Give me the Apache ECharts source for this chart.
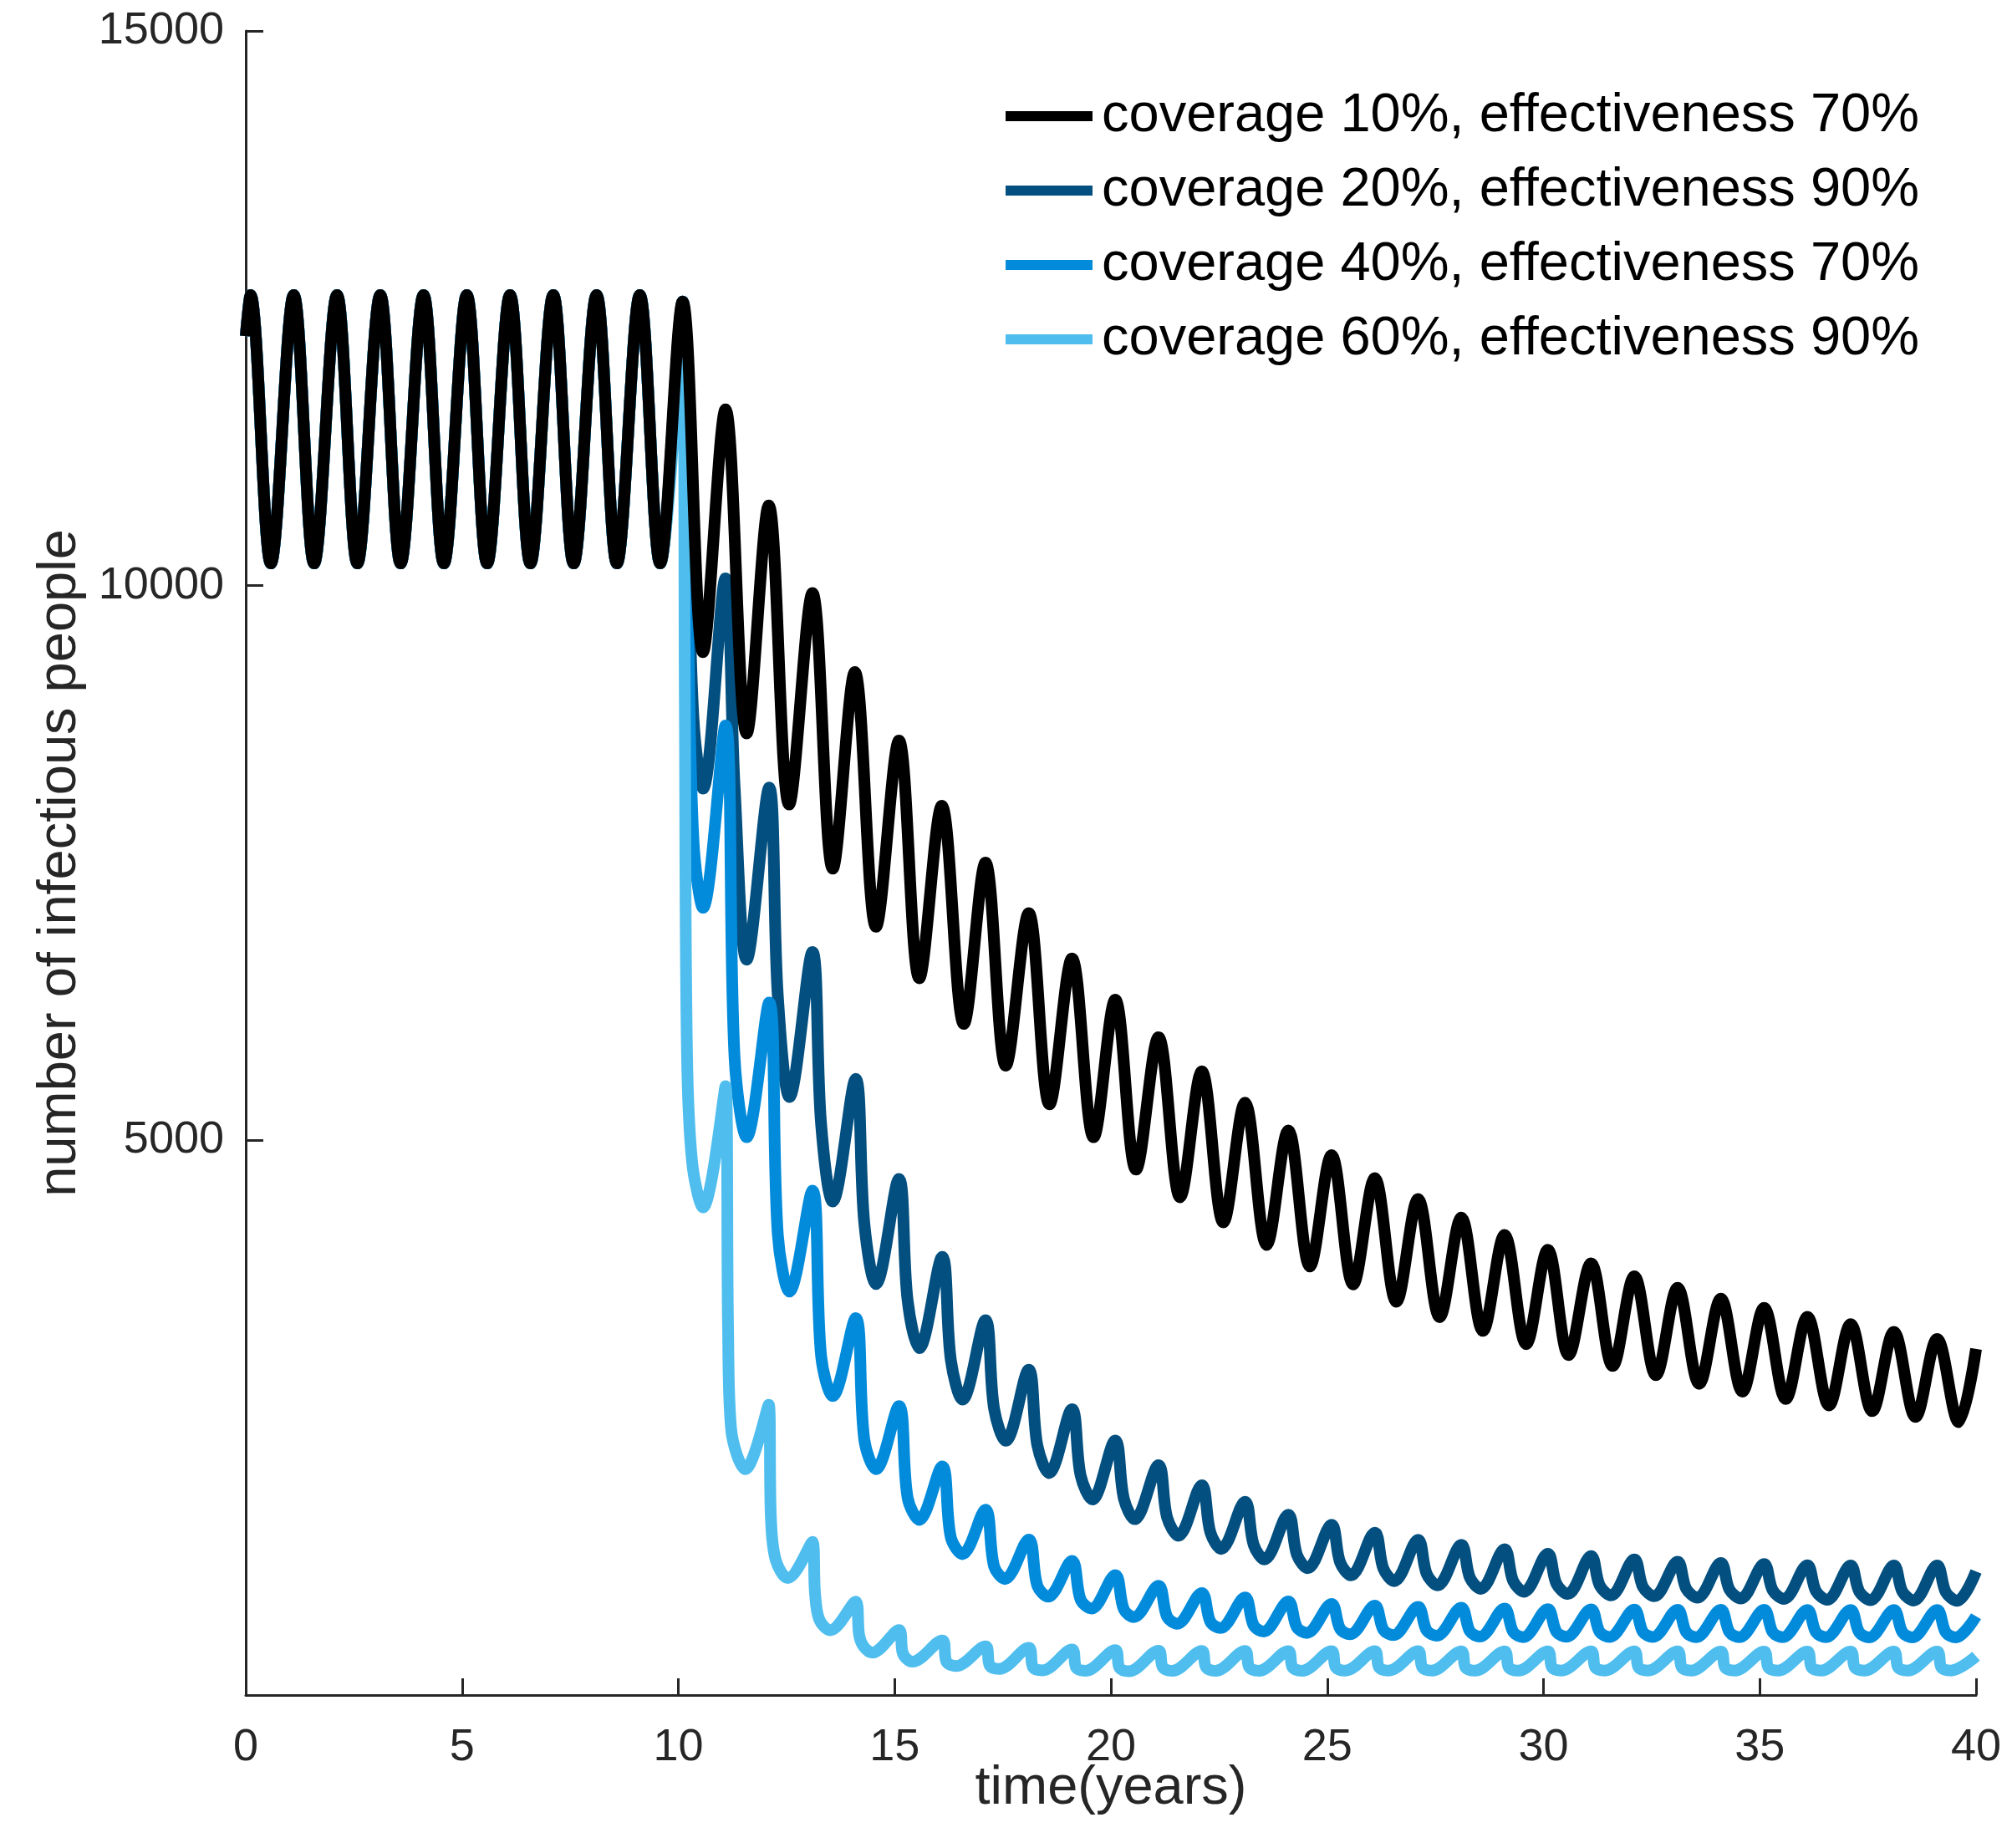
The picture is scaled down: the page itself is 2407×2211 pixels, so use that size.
<!DOCTYPE html>
<html>
<head>
<meta charset="utf-8">
<title>number of infectious people</title>
<script src="https://cdn.jsdelivr.net/npm/echarts@6/dist/echarts.min.js"></script>
<style>
  html, body { margin: 0; padding: 0; background: #fff; }
  #chart { width: 2407px; height: 2211px; }
</style>
</head>
<body>
<div id="chart"></div>
<script>
// [time (years), infectious people]
// before vaccination starts all four runs share the same path
const sharedStart = [[0,12250],[0.11,12620],[0.58,10200],[1.11,12620],[1.58,10200],[2.11,12620],[2.58,10200],[3.11,12620],[3.58,10200],[4.11,12620],[4.58,10200],[5.11,12620],[5.58,10200],[6.11,12620],[6.58,10200],[7.11,12620],[7.58,10200],[8.11,12620],[8.58,10200],[9.11,12620],[9.58,10200],[10.1,12560]]

const cov10eff70 = [[10.57,9400],[11.09,11589],[11.58,8667],[12.09,10723],[12.56,8027],[13.1,9934],[13.57,7449],[14.08,9221],[14.57,6925],[15.1,8603],[15.57,6461],[16.09,8016],[16.6,6050],[17.1,7503],[17.57,5673],[18.1,7048],[18.58,5324],[19.1,6639],[19.6,5028],[20.1,6268],[20.58,4737],[21.1,5929],[21.6,4487],[22.1,5622],[22.6,4261],[23.1,5340],[23.6,4057],[24.1,5090],[24.6,3863],[25.1,4867],[25.6,3701],[26.1,4659],[26.6,3545],[27.1,4471],[27.6,3406],[28.1,4304],[28.6,3282],[29.1,4148],[29.6,3163],[30.1,4013],[30.58,3065],[31.1,3892],[31.6,2966],[32.1,3775],[32.6,2883],[33.1,3671],[33.6,2805],[34.1,3573],[34.6,2735],[35.1,3490],[35.6,2668],[36.1,3409],[36.6,2611],[37.1,3344],[37.6,2559],[38.1,3274],[38.6,2507],[39.1,3210],[39.6,2460],[40,3120]]

const cov20eff90 = [[10.22,10600],[10.35,8800],[10.57,8170],[11.09,10066],[11.3,8196],[11.58,6628],[12.1,8180],[12.3,6300],[12.57,5391],[13.1,6698],[13.3,5150],[13.57,4449],[14.1,5555],[14.3,4250],[14.57,3704],[15.1,4653],[15.3,3560],[15.57,3126],[16.1,3949],[16.3,3020],[16.57,2663],[17.1,3379],[17.3,2580],[17.57,2292],[18.1,2932],[18.3,2250],[18.57,2001],[19.1,2577],[19.3,1980],[19.57,1762],[20.1,2294],[20.3,1770],[20.55,1585],[21.1,2072],[21.3,1600],[21.56,1436],[22.1,1891],[22.3,1465],[22.55,1317],[23.1,1743],[23.3,1355],[23.55,1222],[24.1,1626],[24.3,1265],[24.55,1143],[25.1,1535],[25.3,1195],[25.55,1079],[26.1,1463],[26.3,1138],[26.55,1027],[27.1,1400],[27.3,1093],[27.55,988],[28.1,1354],[28.3,1058],[28.55,957],[29.1,1314],[29.3,1028],[29.55,931],[30.1,1274],[30.3,1003],[30.56,911],[31.1,1253],[31.3,988],[31.56,898],[32.1,1222],[32.3,974],[32.56,890],[33.1,1201],[33.3,958],[33.56,877],[34.1,1190],[34.3,950],[34.56,870],[35.1,1180],[35.3,944],[35.56,866],[36.1,1170],[36.3,936],[36.56,858],[37.1,1167],[37.3,933],[37.56,855],[38.1,1167],[38.3,930],[38.56,852],[39.1,1167],[39.3,928],[39.56,850],[40,1114]]

const cov40eff70 = [[10.22,9800],[10.35,7700],[10.57,7096],[11.09,8740],[11.3,5750],[11.58,5028],[12.1,6241],[12.3,4150],[12.57,3637],[13.1,4547],[13.3,3060],[13.57,2695],[14.1,3398],[14.3,2300],[14.57,2036],[15.1,2604],[15.3,1780],[15.57,1579],[16.1,2061],[16.3,1420],[16.57,1270],[17.1,1671],[17.3,1160],[17.55,1046],[18.1,1402],[18.3,985],[18.55,887],[19.1,1210],[19.3,860],[19.55,780],[20.1,1082],[20.3,772],[20.53,703],[21.1,985],[21.3,705],[21.53,643],[22.1,920],[22.3,660],[22.53,604],[23.1,879],[23.3,628],[23.53,573],[24.1,843],[24.3,610],[24.53,560],[25.1,822],[25.3,597],[25.53,548],[26.1,806],[26.3,588],[26.53,540],[27.1,795],[27.3,582],[27.53,535],[28.1,788],[28.3,574],[28.53,527],[29.1,780],[29.3,569],[29.53,522],[30.1,775],[30.3,570],[30.53,525],[31.1,772],[31.3,569],[31.53,524],[32.1,770],[32.3,568],[32.53,523],[33.1,769],[33.3,567],[33.53,522],[34.1,768],[34.3,567],[34.53,522],[35.1,768],[35.3,566],[35.53,521],[36.1,767],[36.3,566],[36.53,521],[37.1,767],[37.3,565],[37.53,520],[38.1,766],[38.3,565],[38.53,520],[39.1,766],[39.3,565],[39.53,520],[40,710]]

const cov60eff90 = [[10.15,9000],[10.2,5800],[10.32,4800],[10.57,4396],[11.09,5488],[11.15,3300],[11.22,2400],[11.55,2036],[12.09,2617],[12.14,1600],[12.25,1220],[12.53,1054],[13.1,1380],[13.16,920],[13.26,680],[13.51,584],[14.1,842],[14.18,540],[14.28,440],[14.48,382],[15.1,586],[15.18,390],[15.26,334],[15.41,301],[16.1,492],[16.2,300],[16.42,261],[17.1,438],[17.2,265],[17.42,235],[18.1,425],[18.2,250],[18.42,222],[19.1,411],[19.2,245],[19.42,219],[20.1,405],[20.2,245],[20.42,215],[21.1,400],[21.2,250],[21.42,218],[22.1,398],[22.2,250],[22.42,218],[23.1,397],[23.2,249],[23.42,219],[24.1,396],[24.2,249],[24.42,219],[25.1,396],[25.2,249],[25.42,220],[26.1,395],[26.2,249],[26.42,220],[27.1,395],[27.2,249],[27.42,220],[28.1,394],[28.2,248],[28.42,220],[29.1,394],[29.2,248],[29.42,220],[30.1,394],[30.2,248],[30.42,221],[31.1,393],[31.2,248],[31.42,221],[32.1,393],[32.2,248],[32.42,221],[33.1,393],[33.2,248],[33.42,221],[34.1,392],[34.2,248],[34.42,221],[35.1,392],[35.2,248],[35.42,221],[36.1,392],[36.2,248],[36.42,221],[37.1,392],[37.2,248],[37.42,221],[38.1,392],[38.2,248],[38.42,221],[39.1,392],[39.2,248],[39.42,221],[40,350]]

const seriesNames = [
  'coverage 10%, effectiveness 70%',
  'coverage 20%, effectiveness 90%',
  'coverage 40%, effectiveness 70%',
  'coverage 60%, effectiveness 90%',
]
const seriesColors = ['#000000', '#034f7f', '#038bdb', '#4fbeee']
const seriesData = [cov10eff70, cov20eff90, cov40eff70, cov60eff90]

const FONT = '"Liberation Sans", Arial, Helvetica, sans-serif'
const AXIS = '#262626'

function lineSeries(i) {
  return {
    name: seriesNames[i],
    type: 'line',
    data: sharedStart.concat(seriesData[i]),
    smooth: 0.35,
    symbol: 'none',
    lineStyle: { color: seriesColors[i], width: 14, cap: 'butt', join: 'round' },
    itemStyle: { color: seriesColors[i] },
  }
}

function buildOption() {
  return {
    animation: false,
    backgroundColor: '#ffffff',
    grid: { left: 294, right: 43, top: 37, bottom: 183, containLabel: false },
    legend: {
      orient: 'vertical',
      left: 1203,
      top: 104,
      padding: 0,
      itemGap: 19,
      itemWidth: 104,
      itemHeight: 12,
      icon: 'rect',
      data: seriesNames,
      textStyle: { fontFamily: FONT, fontSize: 65, color: '#000', lineHeight: 70, padding: [0, 0, 0, 6] },
    },
    xAxis: {
      type: 'value',
      min: 0,
      max: 40,
      interval: 5,
      name: 'time(years)',
      nameLocation: 'middle',
      nameGap: 80,
      nameMoveOverlap: false,
      nameTextStyle: { fontFamily: FONT, fontSize: 65, color: AXIS, lineHeight: 65 },
      axisLine: { lineStyle: { color: AXIS, width: 3 } },
      axisTick: { inside: true, length: 20, lineStyle: { color: AXIS, width: 3 } },
      axisLabel: { fontFamily: FONT, fontSize: 54, color: AXIS, margin: 36, lineHeight: 54 },
      splitLine: { show: false },
    },
    yAxis: {
      type: 'value',
      min: 0,
      max: 15000,
      interval: 5000,
      name: 'number of infectious people',
      nameLocation: 'middle',
      nameGap: 189,
      nameMoveOverlap: false,
      nameTextStyle: { fontFamily: FONT, fontSize: 65, color: AXIS, lineHeight: 65 },
      axisLine: { show: true, lineStyle: { color: AXIS, width: 3 } },
      axisTick: { show: true, inside: true, length: 21, lineStyle: { color: AXIS, width: 3 } },
      axisLabel: { fontFamily: FONT, fontSize: 54, color: AXIS, margin: 26, showMinLabel: false, formatter: (v) => String(v) },
      splitLine: { show: false },
    },
    // blues first so the 10% run ends up on top, like the figure
    series: [lineSeries(1), lineSeries(2), lineSeries(3), lineSeries(0)],
  }
}

const chart = echarts.init(document.getElementById('chart'), null, { renderer: 'canvas' })
chart.setOption(buildOption())
</script>
</body>
</html>
